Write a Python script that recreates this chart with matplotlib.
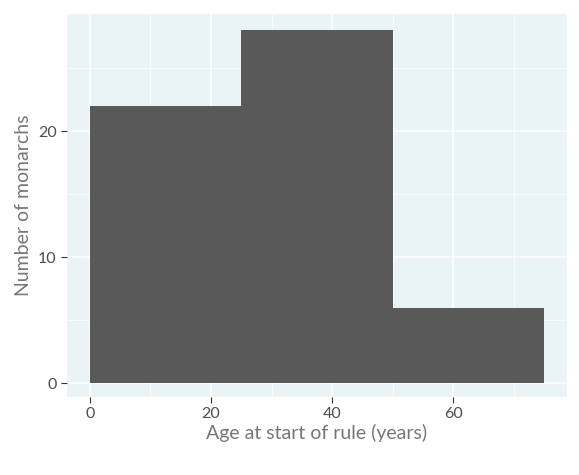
import matplotlib
matplotlib.use("Agg")
import matplotlib.pyplot as plt
import numpy as np

bin_edges = [0, 25, 50, 75]
counts = [22, 28, 6]

plt.rcParams['font.family'] = ['Lato', 'DejaVu Sans']

fig = plt.figure(figsize=(5.79, 4.75), dpi=100)
ax = fig.add_axes([67/579, 1-397/475, 500/579, 383/475])
ax.set_facecolor("#EAF3F5")

ax.bar(bin_edges[:-1], counts, width=np.diff(bin_edges), align="edge",
       color="#595959", zorder=3)

ax.set_xlim(-3.75, 78.75)
ax.set_ylim(-1.1, 29.3)
ax.set_xticks([0, 20, 40, 60])
ax.set_yticks([0, 10, 20])
ax.set_xticks([10, 30, 50, 70], minor=True)
ax.set_yticks([5, 15, 25], minor=True)
ax.grid(which="major", color="white", linewidth=1.1, zorder=0)
ax.grid(which="minor", color="white", linewidth=0.5, zorder=0)
for s in ax.spines.values():
    s.set_visible(False)
ax.tick_params(which="major", length=4, color="#333333", labelsize=11.5,
               labelcolor="#4d4d4d")
ax.tick_params(which="minor", length=0)

ax.set_xlabel("Age at start of rule (years)", fontsize=14, color="#777777", labelpad=2)
ax.set_ylabel("Number of monarchs", fontsize=14, color="#777777", labelpad=4)

fig.savefig("out.png", dpi=100)
